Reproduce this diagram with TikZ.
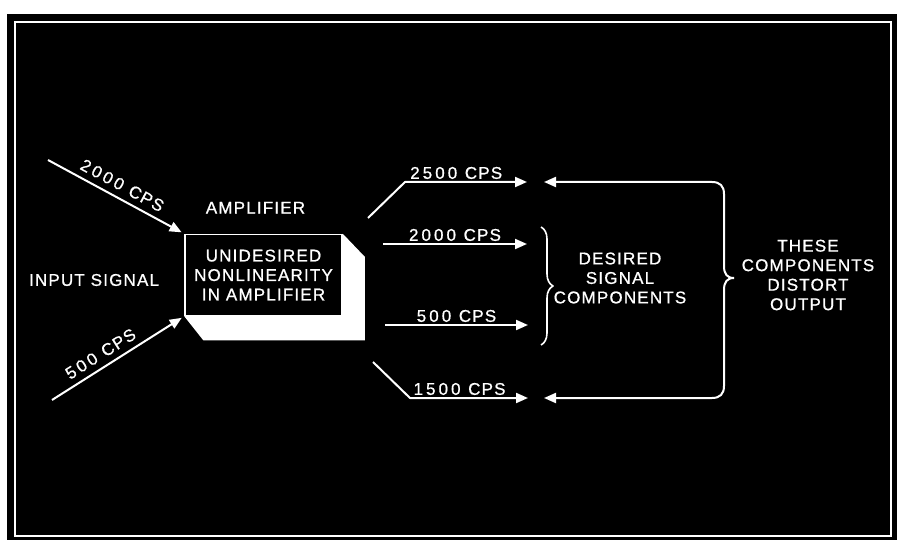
\documentclass[tikz,border=0pt]{standalone}
\usepackage{fontspec}
\setmainfont{Liberation Sans}[LetterSpace=7, FakeBold=0.8]
\usetikzlibrary{arrows.meta, positioning, decorations.pathreplacing}
\newcommand\cps[1]{{\addfontfeature{LetterSpace=18}#1}\hspace{0.45em}CPS}

\begin{document}
\begin{tikzpicture}[
    x=1pt, y=-1pt,
    lbl/.style={text=white, align=center, inner sep=2pt,
                font=\fontsize{17}{19.5}\selectfont},
    wire/.style={draw=white, line width=2pt, line join=round},
    >={Triangle[length=12pt, width=10pt]}]
  \useasboundingbox (0,0) rectangle (903,540);
  % photo frame
  \fill[white] (0,0) rectangle (903,540);
  \fill[black] (7,14) rectangle (897,540);
  \draw[white, line width=2.5pt] (15,22) rectangle (891,536);
  % amplifier block
  \node[lbl, draw=white, fill=black, line width=1.5pt, minimum width=157pt,
        minimum height=81pt] (amp) at (263.5,275)
        {UNIDESIRED\\ NONLINEARITY\\ IN AMPLIFIER};
  \fill[white] (amp.south west) -- ++(19,24) -- ([shift={(22,24)}]amp.south east)
        -- ([shift={(22,23)}]amp.north east) -- (amp.north east)
        -- (amp.south east) -- cycle;
  \node[lbl, above=18pt of amp, xshift=-8pt] (ampl) {AMPLIFIER};
  \node[lbl, left=23pt of amp, yshift=-5pt] (insig) {INPUT SIGNAL};
  % inputs
  \coordinate (in1) at (48,160);
  \coordinate (in2) at (52,400);
  \draw[wire, ->, shorten >=3pt] (in1) -- node[lbl, sloped, above=4pt] {\cps{2000}} (amp.north west);
  \draw[wire, ->, shorten >=3pt] (in2) -- node[lbl, sloped, above=4pt, pos=0.42] {\cps{500}} (amp.south west);
  % outputs
  \coordinate (s1) at (368,218); \coordinate (t1) at (527,182);
  \coordinate (s2) at (383,244); \coordinate (t2) at (527,244);
  \coordinate (s3) at (385,325); \coordinate (t3) at (528,325);
  \coordinate (s4) at (373,362); \coordinate (t4) at (528,398);
  \draw[wire, ->] (s1) -- (405,182) -- node[lbl, above, pos=0.42] {\cps{2500}} (t1);
  \draw[wire, ->] (s2) -- node[lbl, above] {\cps{2000}} (t2);
  \draw[wire, ->] (s3) -- node[lbl, above] {\cps{500}} (t3);
  \draw[wire, ->] (s4) -- (410,398) -- node[lbl, above, pos=0.42] {\cps{1500}} (t4);
  % desired components
  \coordinate (b1) at (541,227);
  \coordinate (b2) at (541,345);
  \draw[wire, line width=1.6pt, decorate, decoration={brace, amplitude=12pt}] (b1) -- (b2);
  \node[lbl] (des) at (620,278) {DESIRED\\ SIGNAL\\ COMPONENTS};
  % distorting components
  \coordinate (tip) at (734,278);
  \coordinate (u1) at (544,182);
  \coordinate (u2) at (544,398);
  \draw[wire, ->] (tip) .. controls (727,278) and (724,274) .. (724,266)
        -- (724,194) .. controls (724,186) and (720,182) .. (712,182) -- (u1);
  \draw[wire, ->] (tip) .. controls (727,278) and (724,282) .. (724,290)
        -- (724,386) .. controls (724,394) and (720,398) .. (712,398) -- (u2);
  \node[lbl] (dist) at (808,275) {THESE\\ COMPONENTS\\ DISTORT\\ OUTPUT};
\end{tikzpicture}
\end{document}
